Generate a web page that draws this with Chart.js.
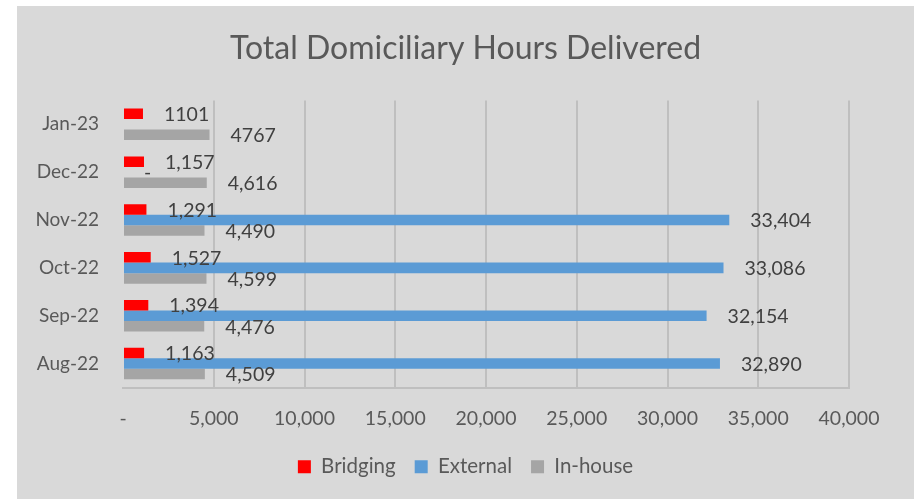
<!DOCTYPE html>
<html>
<head>
<meta charset="utf-8">
<script src="https://cdn.jsdelivr.net/npm/chart.js@4"></script>
<style>
  html, body { margin: 0; padding: 0; background: #fff; }
  #wrap { position: absolute; left: 17px; top: 6px; width: 897px; height: 493px; background: #d9d9d9; }
</style>
</head>
<body>
<div id="wrap"><canvas id="hoursChart" width="897" height="493"></canvas></div>
<script>
// categories, top to bottom as in the chart
const months = ["Jan-23", "Dec-22", "Nov-22", "Oct-22", "Sep-22", "Aug-22"];
const bridging = [1101, 1157, 1291, 1527, 1394, 1163];
const external = [null, 0, 33404, 33086, 32154, 32890];
const inHouse = [4767, 4616, 4490, 4599, 4476, 4509];
const xTicks = [0, 5000, 10000, 15000, 20000, 25000, 30000, 35000, 40000];
// these months had their labels typed without a thousands separator
const plainLabelMonths = ["Jan-23"];

const txt = "#595959";
const gridCol = "#bfbfbf";

function fmtNum(v) {
  if (v === 0) return "-";
  return v.toLocaleString("en-US");
}

// labels at the outside end of each bar
const barLabels = {
  id: "barLabels",
  afterDatasetsDraw(chart) {
    const ctx = chart.ctx;
    ctx.save();
    ctx.font = "19.5px Lato";
    ctx.fillStyle = "#404040";
    ctx.textAlign = "left";
    ctx.textBaseline = "middle";
    chart.data.datasets.forEach((ds, i) => {
      const meta = chart.getDatasetMeta(i);
      meta.data.forEach((bar, j) => {
        const v = ds.data[j];
        if (v === null || v === undefined) return;
        let s = plainLabelMonths.includes(months[j]) ? String(v) : fmtNum(v);
        ctx.fillText(s, bar.x + 21, bar.y + 1);
      });
    });
    ctx.restore();
  }
};

const ctx = document.getElementById("hoursChart").getContext("2d");
new Chart(ctx, {
  type: "bar",
  data: {
    labels: months,
    datasets: [
      { label: "Bridging", data: bridging, backgroundColor: "#ff0000" },
      { label: "External", data: external, backgroundColor: "#5b9bd5" },
      { label: "In-house", data: inHouse, backgroundColor: "#a5a5a5" }
    ]
  },
  options: {
    indexAxis: "y",
    responsive: false,
    animation: false,
    layout: { padding: { left: 0, right: 0, top: 0, bottom: 12 } },
    datasets: { bar: { categoryPercentage: 0.66, barPercentage: 1.0 } },
    scales: {
      x: {
        min: 0,
        max: 40000,
        afterBuildTicks(scale) { scale.ticks = xTicks.map(v => ({ value: v })); },
        afterFit(scale) { scale.height = 50; },
        grid: {
          color: c => (c.tick && c.tick.value === 0 ? "rgba(0,0,0,0)" : gridCol),
          lineWidth: 2,
          drawTicks: false
        },
        border: { display: true, color: gridCol, width: 2 },
        ticks: {
          color: txt,
          font: { family: "Lato", size: 19.5 },
          padding: 20,
          maxRotation: 0,
          callback: v => fmtNum(v)
        }
      },
      y: {
        afterFit(scale) { scale.width = 106; },
        grid: { display: false, drawTicks: false },
        border: { display: false },
        ticks: { color: txt, font: { family: "Lato", size: 19 }, padding: 24 }
      },
      // empty right-hand margin so title and legend centre on the whole box
      yRight: {
        type: "category",
        position: "right",
        afterFit(scale) { scale.width = 65; },
        grid: { display: false, drawTicks: false },
        border: { display: false },
        ticks: { display: false }
      }
    },
    plugins: {
      title: {
        display: true,
        text: "Total Domiciliary Hours Delivered",
        color: txt,
        font: { family: "Lato", size: 32, weight: "normal" },
        padding: { top: 23, bottom: 33 }
      },
      legend: {
        position: "bottom",
        labels: {
          color: txt,
          font: { family: "Lato", size: 20.5 },
          boxWidth: 13,
          boxHeight: 13,
          padding: 19
        }
      },
      tooltip: { enabled: false }
    }
  },
  plugins: [barLabels]
});
</script>
</body>
</html>
